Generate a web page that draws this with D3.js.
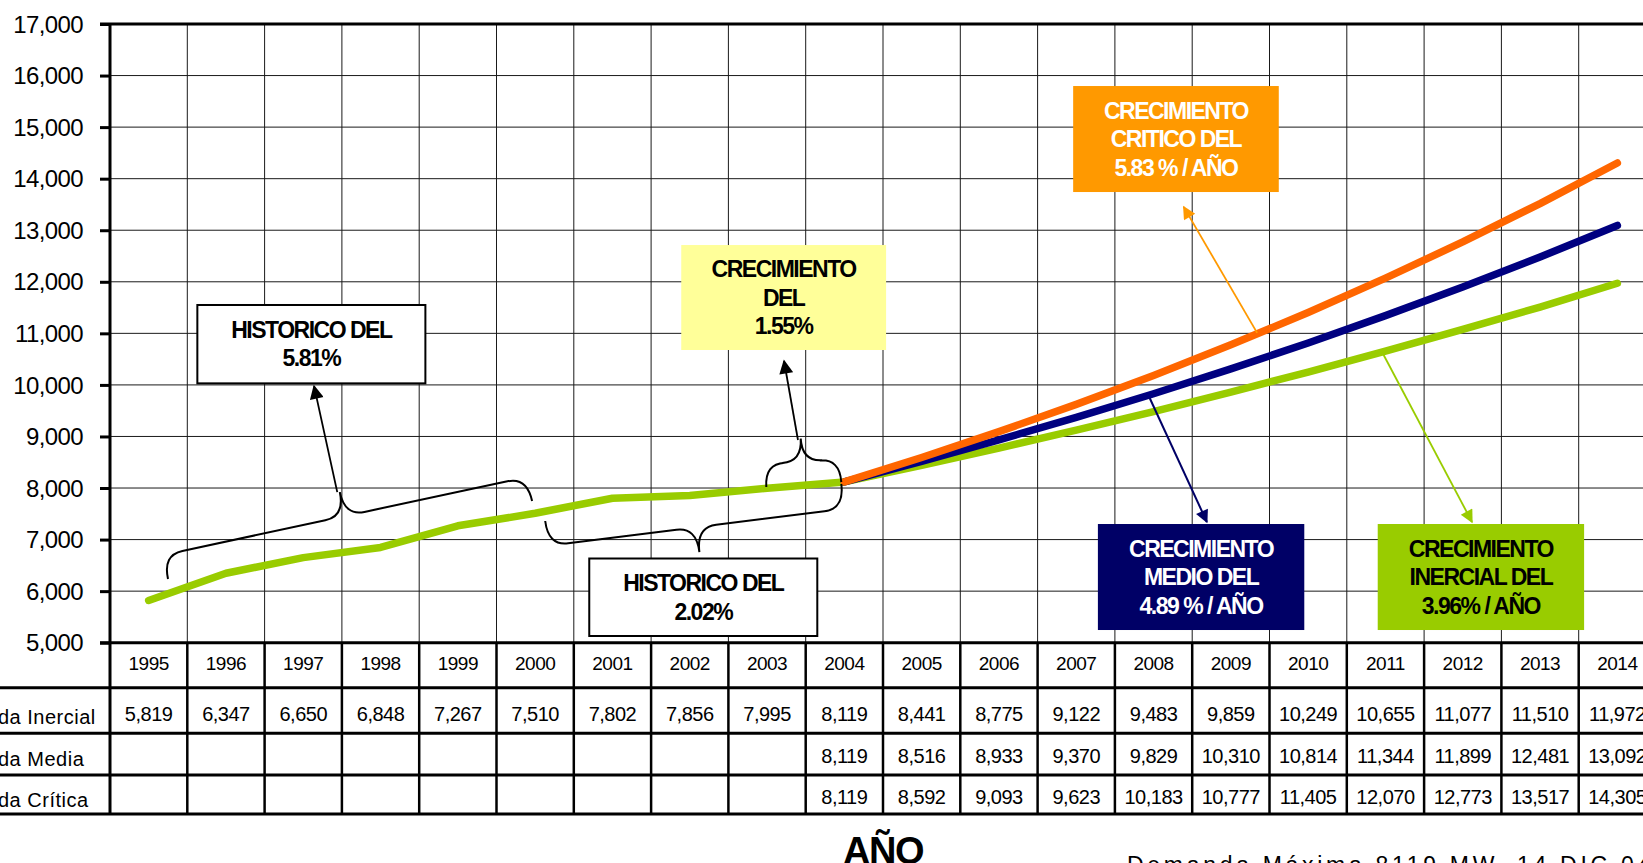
<!DOCTYPE html>
<html>
<head>
<meta charset="utf-8">
<script src="https://cdn.jsdelivr.net/npm/d3@7"></script>
<style>
  body { margin: 0; background: #fff; overflow: hidden; }
  text { font-family: "Liberation Sans", Arial, sans-serif; }
</style>
</head>
<body>
<div id="chart"></div>
<script>

// data
const years = [1995, 1996, 1997, 1998, 1999, 2000, 2001, 2002, 2003, 2004,
               2005, 2006, 2007, 2008, 2009, 2010, 2011, 2012, 2013, 2014]
const inercial = [5819, 6347, 6650, 6848, 7267, 7510, 7802, 7856, 7995, 8119,
                  8441, 8775, 9122, 9483, 9859, 10249, 10655, 11077, 11510, 11972]
const projYears = [2004, 2005, 2006, 2007, 2008, 2009, 2010, 2011, 2012, 2013, 2014]
const media = [8119, 8516, 8933, 9370, 9829, 10310, 10814, 11344, 11899, 12481, 13092]
const critica = [8119, 8592, 9093, 9623, 10183, 10777, 11405, 12070, 12773, 13517, 14305]
const yTicks = [5000, 6000, 7000, 8000, 9000, 10000, 11000, 12000, 13000, 14000, 15000, 16000, 17000]
const rowLabels = ["Demanda Inercial", "Demanda Media", "Demanda Crítica"]

// set the dimensions of the graph
var W = 1643, H = 863
var left = 110, plotTop = 24, colW = 77.3, plotBottom = 642.7
var rowLines = [687.7, 733.3, 775, 814]
var rowBase = [721, 763, 804]

var svg = d3.select("#chart")
  .append("svg")
    .attr("width", W)
    .attr("height", H)

var x = d3.scaleBand()
  .domain(years)
  .range([left, left + years.length * colW])
  .padding(0)
var bw = x.bandwidth()

var y = d3.scaleLinear()
  .domain([5000, 17000])
  .range([plotBottom, plotTop])

// continuous year scale, used to place the callouts
var xt = d3.scaleLinear()
  .domain([1995, 2014])
  .range([x(1995) + bw / 2, x(2014) + bw / 2])
var P = (t, v) => [xt(t), y(v)]

// grid
svg.append("g")
  .selectAll("line")
  .data(yTicks)
  .join("line")
  .attr("x1", left).attr("x2", W)
  .attr("y1", d => y(d)).attr("y2", d => y(d))
  .attr("stroke", "#1a1a1a").attr("stroke-width", 1)

svg.append("g")
  .selectAll("line")
  .data(years)
  .join("line")
  .attr("x1", d => x(d) + bw).attr("x2", d => x(d) + bw)
  .attr("y1", plotTop).attr("y2", plotBottom)
  .attr("stroke", "#1a1a1a").attr("stroke-width", 1)

// series
var series = [
  {name: "Inercial", years: years, values: inercial, color: "#99cc00"},
  {name: "Media", years: projYears, values: media, color: "#000080"},
  {name: "Crítica", years: projYears, values: critica, color: "#ff6600"}
]

var line = d3.line()
  .x(d => x(d[0]) + bw / 2)
  .y(d => y(d[1]))

svg.append("g")
  .selectAll("path")
  .data(series)
  .join("path")
  .attr("d", s => line(s.years.map((yr, i) => [yr, s.values[i]])))
  .attr("fill", "none")
  .attr("stroke", s => s.color)
  .attr("stroke-width", 7.5)
  .attr("stroke-linecap", "round")
  .attr("stroke-linejoin", "round")

// arrow markers
var defs = svg.append("defs")
function marker(id, color, w, h) {
  defs.append("marker")
    .attr("id", id)
    .attr("viewBox", "0 0 10 10")
    .attr("refX", 9).attr("refY", 5)
    .attr("markerUnits", "userSpaceOnUse")
    .attr("markerWidth", w).attr("markerHeight", h)
    .attr("orient", "auto")
    .append("path")
    .attr("d", "M0,0 L10,5 L0,10 z")
    .attr("fill", color)
}
marker("arBlack", "#000", 18, 14)
marker("arOrange", "#ff9900", 16, 13)
marker("arNavy", "#000066", 16, 13)
marker("arGreen", "#99cc00", 16, 13)

// curly brace between two points, depth d (sign picks the side)
function brace(p1, p2, d, q) {
  var dx = p2[0] - p1[0], dy = p2[1] - p1[1], L = Math.hypot(dx, dy)
  var u = [dx / L, dy / L], n = [-u[1], u[0]]
  var Q = (p, a, b) => [p[0] + u[0] * a + n[0] * b, p[1] + u[1] * a + n[1] * b]
  var m = [(p1[0] + p2[0]) / 2, (p1[1] + p2[1]) / 2]
  var h = d / 2
  var pt = p => p[0].toFixed(1) + "," + p[1].toFixed(1)
  return "M" + pt(p1) +
    "Q" + pt(Q(p1, 0, h)) + " " + pt(Q(p1, q, h)) +
    "L" + pt(Q(m, -q, h)) +
    "Q" + pt(Q(m, 0, h)) + " " + pt(Q(m, 0, d)) +
    "Q" + pt(Q(m, 0, h)) + " " + pt(Q(m, q, h)) +
    "L" + pt(Q(p2, -q, h)) +
    "Q" + pt(Q(p2, 0, h)) + " " + pt(p2)
}

var braces = [
  {from: [1995.25, 6235], to: [1999.96, 7748], depth: -49},
  {from: [2000.13, 7360], to: [2003.96, 8078], depth: 50},
  {from: [2002.99, 8020], to: [2003.96, 8117], depth: -46}
]
svg.append("g")
  .selectAll("path")
  .data(braces)
  .join("path")
  .attr("d", b => brace(P(...b.from), P(...b.to), b.depth, 20))
  .attr("fill", "none")
  .attr("stroke", "#000")
  .attr("stroke-width", 2)

var arrows = [
  {from: [1997.44, 7920], to: [1997.14, 9976], color: "#000", w: 1.8, m: "arBlack"},
  {from: [2003.40, 8932], to: [2003.22, 10464], color: "#000", w: 1.8, m: "arBlack"},
  {from: [2009.34, 11009], to: [2008.39, 13453], color: "#ff9900", w: 1.8, m: "arOrange"},
  {from: [2007.95, 9746], to: [2008.69, 7341], color: "#000066", w: 2, m: "arNavy"},
  {from: [2010.97, 10600], to: [2012.12, 7341], color: "#99cc00", w: 1.8, m: "arGreen"}
]
svg.append("g")
  .selectAll("line")
  .data(arrows)
  .join("line")
  .attr("x1", a => P(...a.from)[0]).attr("y1", a => P(...a.from)[1])
  .attr("x2", a => P(...a.to)[0]).attr("y2", a => P(...a.to)[1])
  .attr("stroke", a => a.color)
  .attr("stroke-width", a => a.w)
  .attr("marker-end", a => "url(#" + a.m + ")")

// callout boxes
var callouts = [
  {lines: ["HISTORICO DEL", "5.81%"], tl: [1995.63, 11550], br: [1998.58, 10030], fill: "#fff", stroke: "#000", color: "#000"},
  {lines: ["HISTORICO DEL", "2.02%"], tl: [2000.70, 6633], br: [2003.65, 5130], fill: "#fff", stroke: "#000", color: "#000"},
  {lines: ["CRECIMIENTO", "DEL", "1.55%"], tl: [2001.89, 12713], br: [2004.54, 10677], fill: "#ffff99", stroke: "none", color: "#000"},
  {lines: ["CRECIMIENTO", "CRITICO DEL", "5.83 % / AÑO"], tl: [2006.96, 15797], br: [2009.62, 13741], fill: "#ff9900", stroke: "none", color: "#fff"},
  {lines: ["CRECIMIENTO", "MEDIO DEL", "4.89 % / AÑO"], tl: [2007.28, 7302], br: [2009.95, 5246], fill: "#000066", stroke: "none", color: "#fff"},
  {lines: ["CRECIMIENTO", "INERCIAL DEL", "3.96% / AÑO"], tl: [2010.90, 7302], br: [2013.57, 5246], fill: "#99cc00", stroke: "none", color: "#000"}
]

var cg = svg.append("g")
  .selectAll("g")
  .data(callouts)
  .join("g")

cg.append("rect")
  .attr("x", c => P(...c.tl)[0])
  .attr("y", c => P(...c.tl)[1])
  .attr("width", c => P(...c.br)[0] - P(...c.tl)[0])
  .attr("height", c => P(...c.br)[1] - P(...c.tl)[1])
  .attr("fill", c => c.fill)
  .attr("stroke", c => c.stroke)
  .attr("stroke-width", 2)

cg.each(function(c) {
  var a = P(...c.tl), b = P(...c.br)
  var cx = (a[0] + b[0]) / 2, cy = (a[1] + b[1]) / 2
  d3.select(this).selectAll("text")
    .data(c.lines)
    .join("text")
    .attr("x", cx)
    .attr("y", (d, i) => cy + (i - (c.lines.length - 1) / 2) * 28.5 + 8)
    .attr("text-anchor", "middle")
    .attr("fill", c.color)
    .style("font-size", "23px")
    .style("font-weight", "bold")
    .style("letter-spacing", "-1.5px")
    .text(d => d)
})

// y axis
var yAxis = svg.append("g")
  .attr("transform", `translate(${left}, 0)`)
  .call(d3.axisLeft(y).tickValues(yTicks).tickSize(10).tickSizeOuter(0).tickPadding(17).tickFormat(d3.format(",")))
yAxis.select(".domain").remove()
yAxis.selectAll(".tick line").attr("stroke", "#000").attr("stroke-width", 3)
yAxis.selectAll(".tick text")
  .attr("fill", "#000")
  .attr("dy", "0.34em")
  .style("font-size", "24px")
  .style("font-family", "'Liberation Sans', Arial, sans-serif")
  .style("letter-spacing", "-0.6px")

// heavy frame lines
var frame = svg.append("g").attr("stroke", "#000").attr("stroke-width", 3)
frame.append("line").attr("x1", left - 10).attr("x2", W).attr("y1", plotTop).attr("y2", plotTop)
frame.append("line").attr("x1", left - 10).attr("x2", W).attr("y1", plotBottom).attr("y2", plotBottom)
frame.append("line").attr("x1", left).attr("x2", left).attr("y1", plotTop).attr("y2", rowLines[3])
frame.selectAll(".row")
  .data(rowLines)
  .join("line")
  .attr("x1", 0).attr("x2", W)
  .attr("y1", d => d).attr("y2", d => d)

// table column lines
svg.append("g")
  .selectAll("line")
  .data(years)
  .join("line")
  .attr("x1", d => x(d) + bw).attr("x2", d => x(d) + bw)
  .attr("y1", plotBottom).attr("y2", rowLines[3])
  .attr("stroke", "#000").attr("stroke-width", 2.5)

// year row
svg.append("g")
  .selectAll("text")
  .data(years)
  .join("text")
  .attr("x", d => x(d) + bw / 2)
  .attr("y", 670)
  .attr("text-anchor", "middle")
  .style("font-size", "19px")
  .style("letter-spacing", "-0.5px")
  .text(d => d)

// value rows
var fmt = d3.format(",")
series.forEach((s, r) => {
  svg.append("g")
    .selectAll("text")
    .data(s.years.map((yr, i) => [yr, s.values[i]]))
    .join("text")
    .attr("x", d => x(d[0]) + bw / 2)
    .attr("y", rowBase[r])
    .attr("text-anchor", "middle")
    .style("font-size", "20px")
    .style("letter-spacing", "-0.5px")
    .text(d => fmt(d[1]))
})

// row labels, mostly cut off on the left as in the original
svg.append("g")
  .selectAll("text")
  .data(rowLabels)
  .join("text")
  .attr("x", -69)
  .attr("y", (d, i) => rowBase[i] + 3)
  .style("font-size", "20px")
  .style("letter-spacing", "0.5px")
  .text(d => d)

// footer
svg.append("text")
  .attr("x", 883).attr("y", 864)
  .attr("text-anchor", "middle")
  .style("font-size", "38px")
  .style("font-weight", "bold")
  .style("letter-spacing", "-1.5px")
  .text("AÑO")

svg.append("text")
  .attr("x", 1127).attr("y", 873)
  .style("font-size", "23px")
  .style("letter-spacing", "3.7px")
  .text("Demanda Máxima  8119 MW, 14 DIC 04")

</script>
</body>
</html>
